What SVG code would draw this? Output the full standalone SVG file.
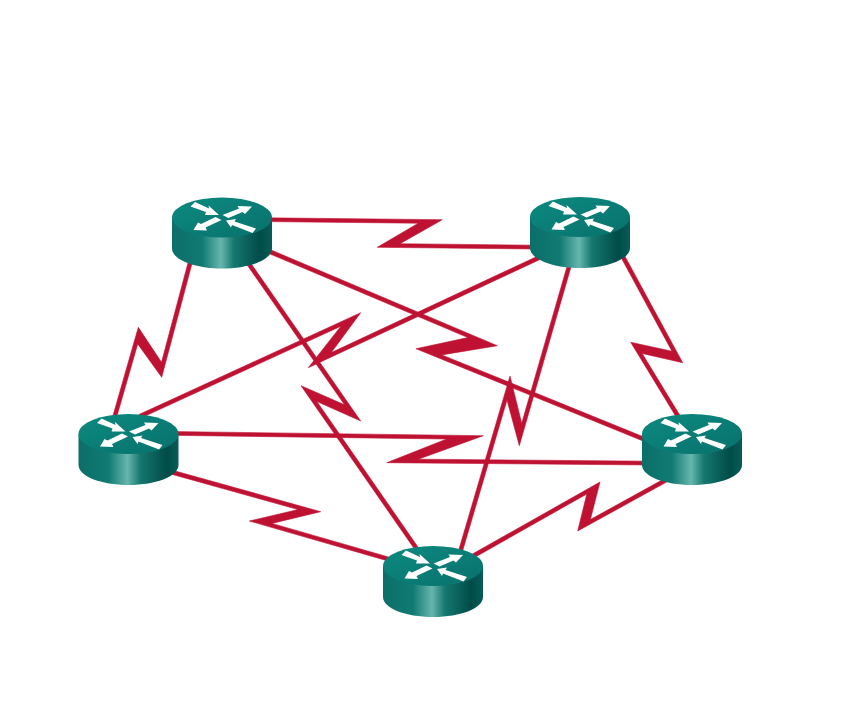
<svg xmlns="http://www.w3.org/2000/svg" width="849" height="722" viewBox="0 0 849 722">
<style>
.link{fill:#bf1233;stroke:#bf1233;stroke-width:.6;stroke-linejoin:bevel}
.arrow{fill:#fff}
</style>
<defs>
<linearGradient id="side" x1="0" x2="1" y1="0" y2="0">
<stop offset="0" stop-color="#0c6e69"/>
<stop offset=".3" stop-color="#117a73"/>
<stop offset=".49" stop-color="#66b6ad"/>
<stop offset=".62" stop-color="#15776f"/>
<stop offset=".88" stop-color="#004c49"/>
<stop offset="1" stop-color="#075c58"/>
</linearGradient>
<linearGradient id="top" x1="0" x2="1" y1="0" y2="1">
<stop offset="0" stop-color="#0c8a80"/>
<stop offset="1" stop-color="#08716c"/>
</linearGradient>
<g id="router">
<path d="M-50 0V31C-50 42-28 51 0 51S50 42 50 31V0Z" fill="url(#side)"/>
<ellipse cx="0" cy="0" rx="50" ry="20" fill="url(#top)"/>
<polygon class="arrow" points="-31.500,-11 -27,-15.500 -13,-9 -13.500,-12 -3,-2.500 -17,-2.500 -16,-5.500"/>
<polygon class="arrow" points="30,-11 23,-3.500 20.500,-5.500 6.500,.5 .5,-2.500 17,-9 15.500,-11.500"/>
<polygon class="arrow" points="-28.500,12.500 -24,5 -21,6.500 -6.500,-.5 -.5,2.500 -16.500,10 -15,13"/>
<polygon class="arrow" points="4,3 14,1.500 12.500,4 34,11 30.500,15.500 10,7.500 9,10"/>
</g>
</defs>
<g id="connectors">
<polygon class="link" points="265,217.800 442.300,219.700 400,243.700 535,245.200 535,249 377.300,247.300 418.300,223.200 265,221.600"/>
<polygon class="link" points="621,249 682.700,362.700 642.200,353.500 683.500,421.300 680.100,423.400 630.700,342.300 671.900,351.200 617.500,250.900"/>
<polygon class="link" points="468,556.500 600,482 590.400,519.500 670.100,475.600 672,479.100 577.700,531 586.800,494 470,560"/>
<polygon class="link" points="168,469 320.700,511.700 271.900,523.400 396.100,559.200 395,563 249.300,521 298.100,509.600 166.900,472.900"/>
<polygon class="link" points="112,419 138.300,327.300 161.500,362.300 190.100,255 194,256 161.700,377.300 137.700,343.900 115.800,420.100"/>
<polygon class="link" points="264,247 497.300,345.700 441.800,354.900 649.500,439.300 648,443 416,348.700 467.900,337.600 262.400,250.700"/>
<polygon class="link" points="243,252 360.700,421 316.900,401.500 423.300,554.700 420,557 301,385.700 344.500,404.800 239.700,254.300"/>
<polygon class="link" points="139,414.500 360.700,312.700 331.300,352.600 546.300,252.100 548,255.700 308.300,367.700 340.900,326.200 140.700,418.100"/>
<polygon class="link" points="170,431.500 483.300,435.700 418.300,459.200 650,461.200 650,465 386.700,462.700 446.700,439 170,435.300"/>
<polygon class="link" points="573,260 519.300,445.700 507,400.100 460.800,557.100 457,556 510,376 521.700,423.300 569.200,258.900"/>
</g>
<g id="router-top-left"><use href="#router" x="222" y="217.500"/></g>
<g id="router-top-right"><use href="#router" x="580" y="217"/></g>
<g id="router-right"><use href="#router" x="692" y="434"/></g>
<g id="router-bottom"><use href="#router" x="433" y="566"/></g>
<g id="router-left"><use href="#router" x="128.500" y="434"/></g>
</svg>
